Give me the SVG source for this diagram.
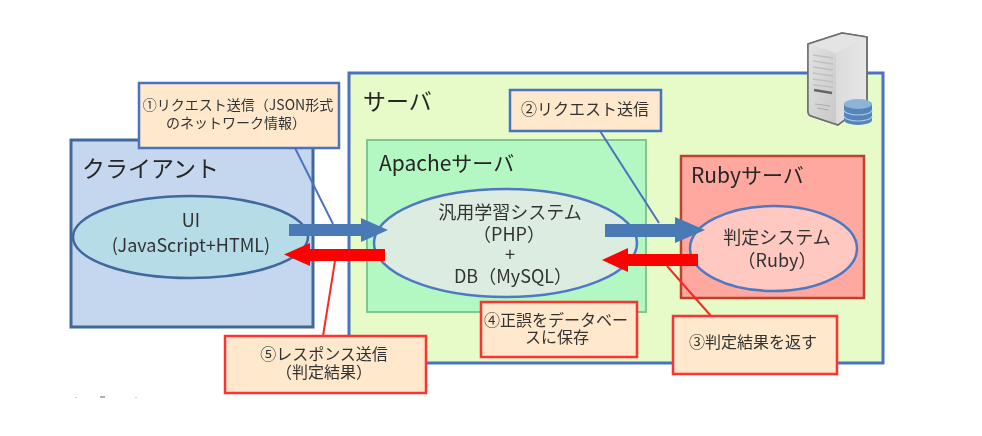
<svg xmlns="http://www.w3.org/2000/svg" width="982" height="436" viewBox="0 0 982 436">
<defs>
<filter id="soft" x="-2%" y="-2%" width="104%" height="104%"><feGaussianBlur stdDeviation="0.6"/></filter>
<linearGradient id="front" x1="0" y1="0" x2="1" y2="1"><stop offset="0" stop-color="#e2e2e2"/><stop offset="1" stop-color="#c8c8c8"/></linearGradient>
<linearGradient id="side" x1="0" y1="0" x2="1" y2="0"><stop offset="0" stop-color="#d2d2d2"/><stop offset="1" stop-color="#e6e6e6"/></linearGradient>
</defs>
<style>
text{font-family:"Noto Sans CJK JP","Noto Sans",sans-serif;fill:#333;text-anchor:middle}
.title{text-anchor:start;fill:#262626}
.t23{font-size:23px}.t21{font-size:21px}.t18{font-size:18px}.t16{font-size:16px}.t14{font-size:14px}
.call-b{fill:#ffe8cc;stroke:#4a72c0;stroke-width:2.5}
.call-r{fill:#ffe8cc;stroke:#ff3333;stroke-width:2.5}
.lead-b{fill:none;stroke:#4a72c0;stroke-width:2}
.lead-r{fill:none;stroke:#f52a2a;stroke-width:2}
.ar-b{fill:#4a7ab5}.ar-r{fill:#ff0000}
</style>
<rect width="982" height="436" fill="#fff"/>
<g filter="url(#soft)">
<g id="server">
<rect x="349" y="73" width="534" height="290" fill="#e6fbc8" stroke="#4a72c0" stroke-width="3"/>
<text class="title t23" x="363" y="110">サーバ</text>
</g>
<g id="client">
<rect x="71" y="140" width="242" height="187" fill="#c5d6ef" stroke="#41689c" stroke-width="3"/>
<text class="title t23" x="82" y="177">クライアント</text>
</g>
<g id="apache">
<rect x="367" y="140" width="279" height="172" fill="#b3f7c3" stroke="#7fc68f" stroke-width="2"/>
<text class="title t21" x="379" y="171">Apacheサーバ</text>
</g>
<g id="ruby">
<rect x="681" y="156" width="183" height="142" fill="#ffa8a0" stroke="#c0402a" stroke-width="2.5"/>
<text class="title t21" x="691" y="183">Rubyサーバ</text>
</g>
<g id="ui">
<ellipse cx="190.500" cy="237" rx="117.500" ry="41" fill="#b6dce8" stroke="#41689c" stroke-width="2.500"/>
<text class="t18" x="191" y="227">UI</text>
<text class="t18" x="191" y="252">(JavaScript+HTML)</text>
</g>
<g id="php">
<ellipse cx="505.500" cy="243" rx="131.500" ry="54" fill="#dcece0" stroke="#4f78c4" stroke-width="2.500"/>
<text class="t18" x="510" y="219">汎用学習システム</text>
<text class="t18" x="509" y="241">（PHP）</text>
<text class="t18" x="510" y="261">+</text>
<text class="t18" x="513" y="283">DB（MySQL）</text>
</g>
<g id="judge">
<ellipse cx="773.500" cy="248.500" rx="83.500" ry="42.500" fill="#ffc8c0" stroke="#4f78c4" stroke-width="2.500"/>
<text class="t18" x="777" y="244">判定システム</text>
<text class="t18" x="777" y="267">（Ruby）</text>
</g>
<g id="connectors">
<path class="lead-b" d="M295 148L333 224"/>
<path class="lead-r" d="M323 336L335 261"/>
<path class="lead-b" d="M600 131L659 223"/>
<path class="lead-r" d="M711 316L667 266"/>
<path class="ar-b" d="M289 224H361V218L388 230L361 242V236H289Z"/>
<path class="ar-r" d="M385 249H310V243L284 254.500L310 266V261H385Z"/>
<path class="ar-b" d="M605 224H675V217L705 230L675 243V237H605Z"/>
<path class="ar-r" d="M698 254H628V248L602 260L628 272V266H698Z"/>
</g>
<g id="callout1">
<rect class="call-b" x="139" y="83" width="200" height="65"/>
<text class="t14" x="238" y="110">①リクエスト送信（JSON形式</text>
<text class="t14" x="236" y="128">のネットワーク情報）</text>
</g>
<g id="callout2">
<rect class="call-b" x="510" y="90" width="151" height="41"/>
<text class="t16" x="585" y="115">②リクエスト送信</text>
</g>
<g id="callout3">
<rect class="call-r" x="673" y="316" width="164" height="58"/>
<text class="t16" x="753" y="348">③判定結果を返す</text>
</g>
<g id="callout4">
<rect class="call-r" x="481" y="302" width="156" height="55"/>
<text class="t16" x="556" y="326">④正誤をデータベー</text>
<text class="t16" x="557" y="343">スに保存</text>
</g>
<g id="callout5">
<rect class="call-r" x="225" y="336" width="201" height="57"/>
<text class="t16" x="324" y="360">⑤レスポンス送信</text>
<text class="t16" x="324" y="378">（判定結果）</text>
</g>
<g id="server-icon">
<path d="M808 44L842 33L867 37V103L838 125L811 116Q808 115 808 111Z" fill="url(#side)" stroke="#6e6e6e" stroke-width="1.500" stroke-linejoin="round"/>
<path d="M808 44L836 53V125L812 116Q808 115 808 111Z" fill="url(#front)"/>
<path d="M808 44L842 33L867 37L836 53Z" fill="#e4e4e4"/>
<path d="M808 44L842 33L867 37V103L838 125L811 116Q808 115 808 111Z" fill="none" stroke="#6e6e6e" stroke-width="1.500" stroke-linejoin="round"/>
<path d="M813 55L833 58M813 61L833 64M813 67L833 70M813 73L833 76M813 79L833 82M813 85L833 87" stroke="#c0c0c0" stroke-width="1.500" fill="none"/>
<path d="M814 90L832 93" stroke="#666" stroke-width="2.500" fill="none"/>
<path d="M815 104L830 106M817 108L828 110" stroke="#aaa" stroke-width="1" fill="none"/>
<path d="M844 104V120A14 5 0 0 0 872 120V104Z" fill="#5484bb"/>
<ellipse cx="858" cy="104" rx="14" ry="5" fill="#8db3d9"/>
<path d="M844 110A14 5 0 0 0 872 110M844 116A14 5 0 0 0 872 116" stroke="#a9c6e3" stroke-width="1.200" fill="none"/>
</g>
<rect x="75" y="397" width="2" height="1" fill="#d0d0d0"/>
<rect x="100" y="396" width="5" height="2" fill="#b0b0b0"/>
<rect x="135" y="397" width="2" height="1" fill="#d0d0d0"/>
</g>
</svg>
